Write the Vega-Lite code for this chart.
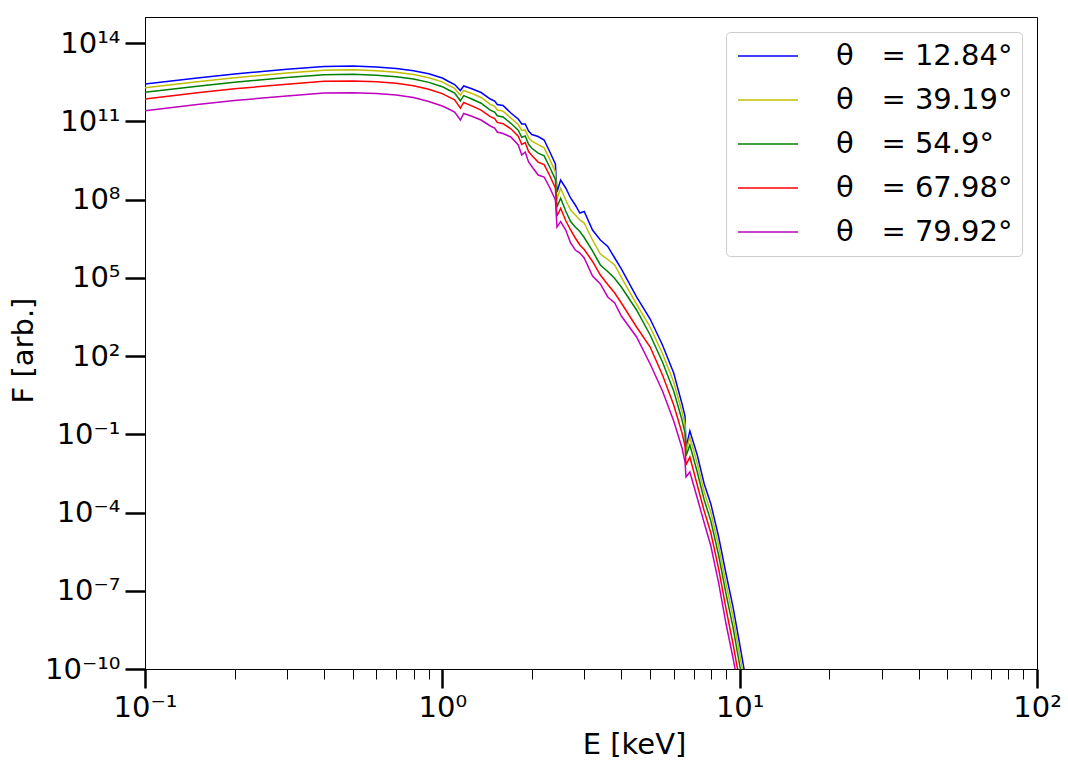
{
"$schema": "https://vega.github.io/schema/vega-lite/v6.json",
"width": 892, "height": 652,
"autosize": {"type": "none"},
"padding": {"left": 145, "top": 17, "right": 31, "bottom": 108},
"background": "white",
"config": {
  "view": {"stroke": "black", "strokeWidth": 1},
  "font": "DejaVu Sans",
  "axis": {"grid": false, "domainColor": "black", "domainWidth": 1, "tickColor": "black", "labelColor": "black", "labelFont": "DejaVu Sans", "labelFontSize": 29, "titleFont": "DejaVu Sans", "titleFontSize": 29, "titleFontWeight": "normal", "titleColor": "black", "labelOverlap": false, "labelFlush": false, "labelBound": false}
},
"data": {"values": [
{"s":"12.84","E":0.1,"F":2.70e12},{"s":"12.84","E":0.15,"F":4.58e12},{"s":"12.84","E":0.2,"F":6.52e12},{"s":"12.84","E":0.3,"F":9.97e12},{"s":"12.84","E":0.4,"F":1.265e13},{"s":"12.84","E":0.5,"F":1.32e13},{"s":"12.84","E":0.6,"F":1.21e13},{"s":"12.84","E":0.7,"F":1.06e13},{"s":"12.84","E":0.8,"F":8.73e12},{"s":"12.84","E":0.9,"F":6.64e12},{"s":"12.84","E":1.0,"F":4.58e12},{"s":"12.84","E":1.05,"F":3.37e12},{"s":"12.84","E":1.1,"F":2.58e12},{"s":"12.84","E":1.15,"F":1.52e12},{"s":"12.84","E":1.18,"F":2.26e12},{"s":"12.84","E":1.25,"F":1.81e12},{"s":"12.84","E":1.35,"F":1.27e12},{"s":"12.84","E":1.45,"F":7.17e11},{"s":"12.84","E":1.5,"F":6.02e11},{"s":"12.84","E":1.53,"F":4.42e11},{"s":"12.84","E":1.6,"F":4.04e11},{"s":"12.84","E":1.7,"F":2.09e11},{"s":"12.84","E":1.8,"F":1.23e11},{"s":"12.84","E":1.85,"F":7.90e10},{"s":"12.84","E":1.9,"F":7.90e10},{"s":"12.84","E":1.95,"F":4.26e10},{"s":"12.84","E":2.0,"F":3.12e10},{"s":"12.84","E":2.1,"F":2.62e10},{"s":"12.84","E":2.2,"F":1.92e10},{"s":"12.84","E":2.3,"F":6.66e9},{"s":"12.84","E":2.4,"F":2.31e9},{"s":"12.84","E":2.43,"F":1.95e8},{"s":"12.84","E":2.5,"F":5.63e8},{"s":"12.84","E":2.6,"F":2.78e8},{"s":"12.84","E":2.7,"F":1.15e8},{"s":"12.84","E":2.8,"F":6.19e7},{"s":"12.84","E":2.9,"F":3.05e7},{"s":"12.84","E":3.0,"F":3.48e7},{"s":"12.84","E":3.2,"F":6.81e6},{"s":"12.84","E":3.4,"F":2.81e6},{"s":"12.84","E":3.6,"F":1.59e6},{"s":"12.84","E":3.8,"F":5.74e5},{"s":"12.84","E":4.0,"F":2.18e5},{"s":"12.84","E":4.5,"F":1.84e4},{"s":"12.84","E":5.0,"F":2.63e3},{"s":"12.84","E":5.5,"F":265},{"s":"12.84","E":6.0,"F":22.4},{"s":"12.84","E":6.4,"F":1.45},{"s":"12.84","E":6.55,"F":0.502},{"s":"12.84","E":6.6,"F":0.0298},{"s":"12.84","E":6.8,"F":0.134},{"s":"12.84","E":7.2,"F":0.01605},{"s":"12.84","E":7.6,"F":1.24e-3},{"s":"12.84","E":8.0,"F":2.12e-4},{"s":"12.84","E":8.5,"F":1.15e-5},{"s":"12.84","E":9.0,"F":4.39e-7},{"s":"12.84","E":9.5,"F":2.38e-8},{"s":"12.84","E":10.0,"F":9.09e-10},{"s":"12.84","E":10.5,"F":3.79e-11},
{"s":"39.19","E":0.1,"F":1.95e12},{"s":"39.19","E":0.15,"F":3.30e12},{"s":"39.19","E":0.2,"F":4.71e12},{"s":"39.19","E":0.3,"F":7.19e12},{"s":"39.19","E":0.4,"F":9.13e12},{"s":"39.19","E":0.5,"F":9.54e12},{"s":"39.19","E":0.6,"F":8.73e12},{"s":"39.19","E":0.7,"F":7.65e12},{"s":"39.19","E":0.8,"F":6.24e12},{"s":"39.19","E":0.9,"F":4.71e12},{"s":"39.19","E":1.0,"F":3.25e12},{"s":"39.19","E":1.05,"F":2.38e12},{"s":"39.19","E":1.1,"F":1.83e12},{"s":"39.19","E":1.15,"F":1.00e12},{"s":"39.19","E":1.18,"F":1.53e12},{"s":"39.19","E":1.25,"F":1.20e12},{"s":"39.19","E":1.35,"F":8.19e11},{"s":"39.19","E":1.45,"F":4.45e11},{"s":"39.19","E":1.5,"F":3.73e11},{"s":"39.19","E":1.53,"F":2.72e11},{"s":"39.19","E":1.6,"F":2.47e11},{"s":"39.19","E":1.7,"F":1.34e11},{"s":"39.19","E":1.8,"F":7.55e10},{"s":"39.19","E":1.85,"F":4.45e10},{"s":"39.19","E":1.9,"F":4.69e10},{"s":"39.19","E":1.95,"F":2.40e10},{"s":"39.19","E":2.0,"F":1.73e10},{"s":"39.19","E":2.1,"F":1.28e10},{"s":"39.19","E":2.2,"F":9.65e9},{"s":"39.19","E":2.3,"F":3.41e9},{"s":"39.19","E":2.4,"F":1.18e9},{"s":"39.19","E":2.43,"F":1.05e8},{"s":"39.19","E":2.5,"F":2.70e8},{"s":"39.19","E":2.6,"F":9.62e7},{"s":"39.19","E":2.7,"F":3.98e7},{"s":"39.19","E":2.8,"F":2.56e7},{"s":"39.19","E":2.9,"F":1.65e7},{"s":"39.19","E":3.0,"F":1.26e7},{"s":"39.19","E":3.2,"F":2.81e6},{"s":"39.19","E":3.4,"F":8.18e5},{"s":"39.19","E":3.6,"F":5.03e5},{"s":"39.19","E":3.8,"F":3.10e5},{"s":"39.19","E":4.0,"F":1.03e5},{"s":"39.19","E":4.5,"F":9.89e3},{"s":"39.19","E":5.0,"F":1.30e3},{"s":"39.19","E":5.5,"F":125},{"s":"39.19","E":6.0,"F":10.1},{"s":"39.19","E":6.4,"F":0.715},{"s":"39.19","E":6.55,"F":0.248},{"s":"39.19","E":6.6,"F":0.0209},{"s":"39.19","E":6.8,"F":0.0786},{"s":"39.19","E":7.2,"F":0.00758},{"s":"39.19","E":7.6,"F":6.12e-4},{"s":"39.19","E":8.0,"F":1.00e-4},{"s":"39.19","E":8.5,"F":5.20e-6},{"s":"39.19","E":9.0,"F":1.82e-7},{"s":"39.19","E":9.5,"F":9.86e-9},{"s":"39.19","E":10.0,"F":3.76e-10},{"s":"39.19","E":10.5,"F":1.57e-11},
{"s":"54.9","E":0.1,"F":1.30e12},{"s":"54.9","E":0.15,"F":2.22e12},{"s":"54.9","E":0.2,"F":3.16e12},{"s":"54.9","E":0.3,"F":4.79e12},{"s":"54.9","E":0.4,"F":6.13e12},{"s":"54.9","E":0.5,"F":6.35e12},{"s":"54.9","E":0.6,"F":5.87e12},{"s":"54.9","E":0.7,"F":5.14e12},{"s":"54.9","E":0.8,"F":4.20e12},{"s":"54.9","E":0.9,"F":3.11e12},{"s":"54.9","E":1.0,"F":2.13e12},{"s":"54.9","E":1.05,"F":1.59e12},{"s":"54.9","E":1.1,"F":1.22e12},{"s":"54.9","E":1.15,"F":6.12e11},{"s":"54.9","E":1.18,"F":9.69e11},{"s":"54.9","E":1.25,"F":7.37e11},{"s":"54.9","E":1.35,"F":4.95e11},{"s":"54.9","E":1.45,"F":2.69e11},{"s":"54.9","E":1.5,"F":2.26e11},{"s":"54.9","E":1.53,"F":1.63e11},{"s":"54.9","E":1.6,"F":1.47e11},{"s":"54.9","E":1.7,"F":8.40e10},{"s":"54.9","E":1.8,"F":4.57e10},{"s":"54.9","E":1.85,"F":2.44e10},{"s":"54.9","E":1.9,"F":2.74e10},{"s":"54.9","E":1.95,"F":1.32e10},{"s":"54.9","E":2.0,"F":9.24e9},{"s":"54.9","E":2.1,"F":6.05e9},{"s":"54.9","E":2.2,"F":4.72e9},{"s":"54.9","E":2.3,"F":1.70e9},{"s":"54.9","E":2.4,"F":5.88e8},{"s":"54.9","E":2.43,"F":5.18e7},{"s":"54.9","E":2.5,"F":1.12e8},{"s":"54.9","E":2.6,"F":3.64e7},{"s":"54.9","E":2.7,"F":1.44e7},{"s":"54.9","E":2.8,"F":8.87e6},{"s":"54.9","E":2.9,"F":5.96e6},{"s":"54.9","E":3.0,"F":3.51e6},{"s":"54.9","E":3.2,"F":1.07e6},{"s":"54.9","E":3.4,"F":3.10e5},{"s":"54.9","E":3.6,"F":1.74e5},{"s":"54.9","E":3.8,"F":9.40e4},{"s":"54.9","E":4.0,"F":4.44e4},{"s":"54.9","E":4.5,"F":5.83e3},{"s":"54.9","E":5.0,"F":641},{"s":"54.9","E":5.5,"F":59.1},{"s":"54.9","E":6.0,"F":4.56},{"s":"54.9","E":6.4,"F":0.353},{"s":"54.9","E":6.55,"F":0.112},{"s":"54.9","E":6.6,"F":0.0147},{"s":"54.9","E":6.8,"F":0.0388},{"s":"54.9","E":7.2,"F":0.00358},{"s":"54.9","E":7.6,"F":3.02e-4},{"s":"54.9","E":8.0,"F":4.73e-5},{"s":"54.9","E":8.5,"F":2.25e-6},{"s":"54.9","E":9.0,"F":7.51e-8},{"s":"54.9","E":9.5,"F":3.90e-9},{"s":"54.9","E":10.0,"F":1.42e-10},{"s":"54.9","E":10.5,"F":6.48e-12},
{"s":"67.98","E":0.1,"F":7.18e11},{"s":"67.98","E":0.15,"F":1.24e12},{"s":"67.98","E":0.2,"F":1.77e12},{"s":"67.98","E":0.3,"F":2.65e12},{"s":"67.98","E":0.4,"F":3.42e12},{"s":"67.98","E":0.5,"F":3.52e12},{"s":"67.98","E":0.6,"F":3.28e12},{"s":"67.98","E":0.7,"F":2.87e12},{"s":"67.98","E":0.8,"F":2.32e12},{"s":"67.98","E":0.9,"F":1.69e12},{"s":"67.98","E":1.0,"F":1.15e12},{"s":"67.98","E":1.05,"F":8.64e11},{"s":"67.98","E":1.1,"F":6.63e11},{"s":"67.98","E":1.15,"F":3.19e11},{"s":"67.98","E":1.18,"F":5.27e11},{"s":"67.98","E":1.25,"F":4.01e11},{"s":"67.98","E":1.35,"F":2.69e11},{"s":"67.98","E":1.45,"F":1.52e11},{"s":"67.98","E":1.5,"F":1.27e11},{"s":"67.98","E":1.53,"F":9.09e10},{"s":"67.98","E":1.6,"F":8.11e10},{"s":"67.98","E":1.7,"F":5.17e10},{"s":"67.98","E":1.8,"F":2.69e10},{"s":"67.98","E":1.85,"F":1.29e10},{"s":"67.98","E":1.9,"F":1.54e10},{"s":"67.98","E":1.95,"F":6.96e9},{"s":"67.98","E":2.0,"F":4.85e9},{"s":"67.98","E":2.1,"F":2.73e9},{"s":"67.98","E":2.2,"F":2.19e9},{"s":"67.98","E":2.3,"F":8.01e8},{"s":"67.98","E":2.4,"F":2.78e8},{"s":"67.98","E":2.43,"F":2.34e7},{"s":"67.98","E":2.5,"F":4.62e7},{"s":"67.98","E":2.6,"F":1.57e7},{"s":"67.98","E":2.7,"F":6.81e6},{"s":"67.98","E":2.8,"F":3.36e6},{"s":"67.98","E":2.9,"F":1.81e6},{"s":"67.98","E":3.0,"F":1.22e6},{"s":"67.98","E":3.2,"F":4.22e5},{"s":"67.98","E":3.4,"F":1.28e5},{"s":"67.98","E":3.6,"F":5.54e4},{"s":"67.98","E":3.8,"F":2.61e4},{"s":"67.98","E":4.0,"F":1.08e4},{"s":"67.98","E":4.5,"F":1.30e3},{"s":"67.98","E":5.0,"F":222},{"s":"67.98","E":5.5,"F":18.7},{"s":"67.98","E":6.0,"F":1.33},{"s":"67.98","E":6.4,"F":0.112},{"s":"67.98","E":6.55,"F":0.0355},{"s":"67.98","E":6.6,"F":0.00664},{"s":"67.98","E":6.8,"F":0.01345},{"s":"67.98","E":7.2,"F":0.001136},{"s":"67.98","E":7.6,"F":1.14e-4},{"s":"67.98","E":8.0,"F":1.64e-5},{"s":"67.98","E":8.5,"F":6.83e-7},{"s":"67.98","E":9.0,"F":2.00e-8},{"s":"67.98","E":9.5,"F":9.09e-10},{"s":"67.98","E":10.0,"F":3.46e-11},{"s":"67.98","E":10.5,"F":1.32e-12},
{"s":"79.92","E":0.1,"F":2.55e11},{"s":"79.92","E":0.15,"F":4.42e11},{"s":"79.92","E":0.2,"F":6.29e11},{"s":"79.92","E":0.3,"F":9.35e11},{"s":"79.92","E":0.4,"F":1.22e12},{"s":"79.92","E":0.5,"F":1.25e12},{"s":"79.92","E":0.6,"F":1.17e12},{"s":"79.92","E":0.7,"F":1.02e12},{"s":"79.92","E":0.8,"F":8.19e11},{"s":"79.92","E":0.9,"F":5.76e11},{"s":"79.92","E":1.0,"F":3.87e11},{"s":"79.92","E":1.05,"F":2.97e11},{"s":"79.92","E":1.1,"F":2.28e11},{"s":"79.92","E":1.15,"F":1.12e11},{"s":"79.92","E":1.18,"F":2.00e11},{"s":"79.92","E":1.25,"F":1.60e11},{"s":"79.92","E":1.35,"F":1.12e11},{"s":"79.92","E":1.45,"F":6.62e10},{"s":"79.92","E":1.5,"F":5.55e10},{"s":"79.92","E":1.53,"F":3.90e10},{"s":"79.92","E":1.6,"F":3.41e10},{"s":"79.92","E":1.7,"F":2.51e10},{"s":"79.92","E":1.8,"F":1.24e10},{"s":"79.92","E":1.85,"F":5.11e9},{"s":"79.92","E":1.9,"F":6.66e9},{"s":"79.92","E":1.95,"F":2.76e9},{"s":"79.92","E":2.0,"F":1.85e9},{"s":"79.92","E":2.1,"F":8.75e8},{"s":"79.92","E":2.2,"F":7.33e8},{"s":"79.92","E":2.3,"F":2.78e8},{"s":"79.92","E":2.4,"F":9.62e7},{"s":"79.92","E":2.43,"F":8.87e6},{"s":"79.92","E":2.5,"F":1.42e7},{"s":"79.92","E":2.6,"F":6.81e6},{"s":"79.92","E":2.7,"F":2.16e6},{"s":"79.92","E":2.8,"F":1.16e6},{"s":"79.92","E":2.9,"F":8.93e5},{"s":"79.92","E":3.0,"F":5.74e5},{"s":"79.92","E":3.2,"F":1.17e5},{"s":"79.92","E":3.4,"F":5.79e4},{"s":"79.92","E":3.6,"F":1.84e4},{"s":"79.92","E":3.8,"F":1.08e4},{"s":"79.92","E":4.0,"F":3.43e3},{"s":"79.92","E":4.5,"F":537},{"s":"79.92","E":5.0,"F":49.5},{"s":"79.92","E":5.5,"F":4.56},{"s":"79.92","E":6.0,"F":0.323},{"s":"79.92","E":6.4,"F":0.0298},{"s":"79.92","E":6.55,"F":0.00865},{"s":"79.92","E":6.6,"F":0.00230},{"s":"79.92","E":6.8,"F":0.00358},{"s":"79.92","E":7.2,"F":3.60e-4},{"s":"79.92","E":7.6,"F":3.96e-5},{"s":"79.92","E":8.0,"F":5.20e-6},{"s":"79.92","E":8.5,"F":1.98e-7},{"s":"79.92","E":9.0,"F":5.31e-9},{"s":"79.92","E":9.5,"F":2.64e-10},{"s":"79.92","E":10.0,"F":1.20e-11},{"s":"79.92","E":10.5,"F":4.58e-13}
]},
"mark": {"type": "line", "strokeWidth": 1.5, "clip": true},
"encoding": {
  "x": {"field": "E", "type": "quantitative",
    "scale": {"type": "log", "domain": [0.1, 100], "nice": false},
    "axis": {
      "title": "E [keV]", "titleX": 489, "titleY": 84, "titleBaseline": "alphabetic", "titleAlign": "center",
      "values": [0.1,0.2,0.3,0.4,0.5,0.6,0.7,0.8,0.9,1,2,3,4,5,6,7,8,9,10,20,30,40,50,60,70,80,90,100],
      "labelExpr": "abs(log(datum.value)/LN10 - round(log(datum.value)/LN10)) < 0.001 ? '10' + replace(replace(replace(replace(replace(replace(replace(replace(replace(replace(replace('' + round(log(datum.value)/LN10),'-','⁻'),regexp('1','g'),'¹'),'0','⁰'),'2','²'),'3','³'),'4','⁴'),'5','⁵'),'6','⁶'),'7','⁷'),'8','⁸'),'9','⁹') : ''",
      "tickSize": {"condition": {"test": "abs(log(datum.value)/LN10 - round(log(datum.value)/LN10)) < 0.001", "value": 19}, "value": 10},
      "tickWidth": {"condition": {"test": "abs(log(datum.value)/LN10 - round(log(datum.value)/LN10)) < 0.001", "value": 2.5}, "value": 1},
      "labelPadding": 5
    }
  },
  "y": {"field": "F", "type": "quantitative",
    "scale": {"type": "log", "domain": [1e-10, 1e15], "nice": false},
    "axis": {
      "title": "F [arb.]", "titleX": -113, "titleY": 333, "titleAngle": -90, "titleBaseline": "alphabetic", "titleAlign": "center",
      "values": [1e-10,1e-7,1e-4,1e-1,100,1e5,1e8,1e11,1e14],
      "labelExpr": "'10' + replace(replace(replace(replace(replace(replace(replace(replace(replace(replace(replace('' + round(log(datum.value)/LN10),'-','⁻'),regexp('1','g'),'¹'),'0','⁰'),'2','²'),'3','³'),'4','⁴'),'5','⁵'),'6','⁶'),'7','⁷'),'8','⁸'),'9','⁹')",
      "tickSize": 20, "tickWidth": 2.5, "labelPadding": 5
    }
  },
  "color": {"field": "s", "type": "nominal",
    "scale": {"domain": ["12.84","39.19","54.9","67.98","79.92"], "range": ["#0000ff","#bfbf00","#008000","#ff0000","#bf00bf"]},
    "legend": {"title": null, "orient": "top-right", "offset": 15, "symbolType": "stroke", "symbolSize": 3600, "symbolStrokeWidth": 1.5, "clipHeight": 30, "rowPadding": 14, "padding": 9, "symbolOffset": 2, "labelOffset": 37, "labelLimit": 500, "labelFontSize": 29, "labelFont": "DejaVu Sans", "labelColor": "black", "strokeColor": "#cccccc", "fillColor": "white", "cornerRadius": 4,
      "labelExpr": "'θ\u00a0\u00a0\u00a0= ' + datum.label + '°'"}
  }
}
}
